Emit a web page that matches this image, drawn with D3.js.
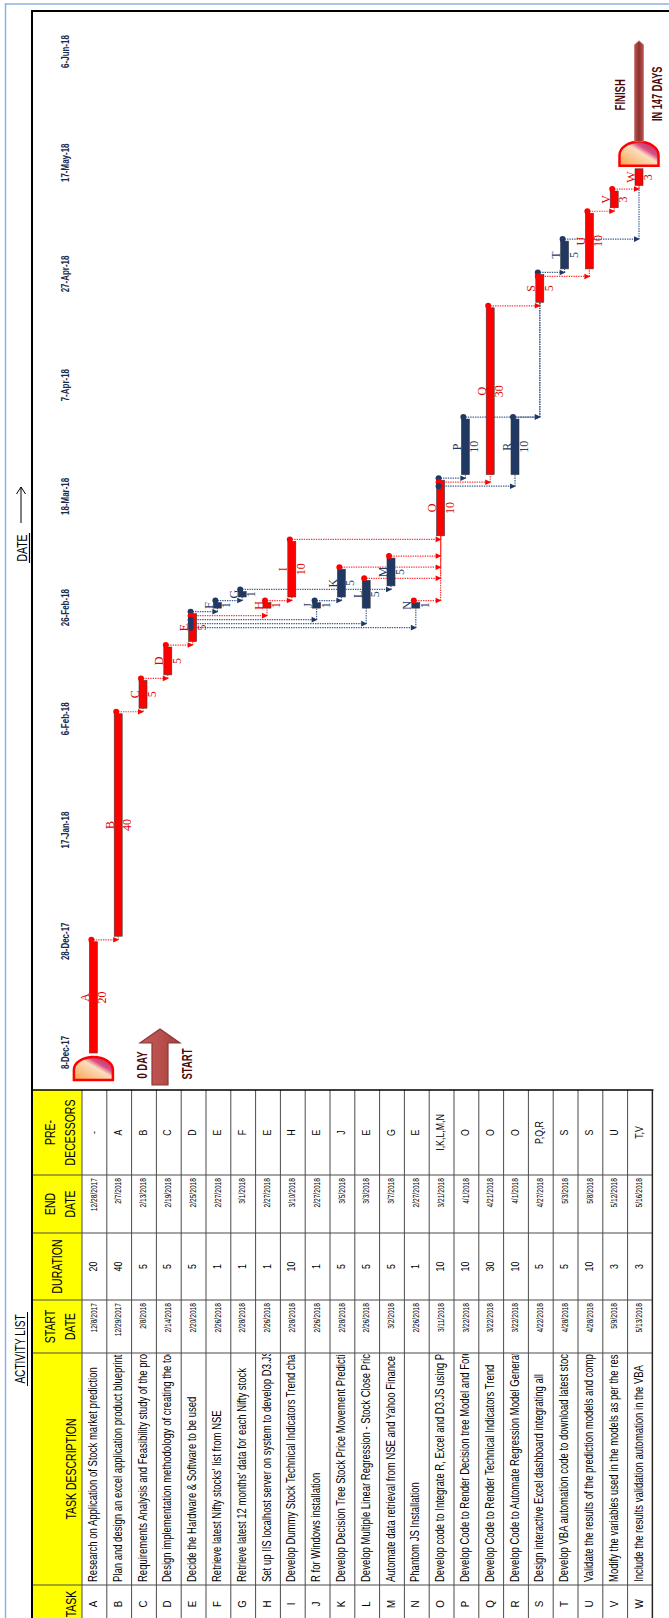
<!DOCTYPE html>
<html>
<head>
<meta charset="utf-8">
<script src="https://cdn.jsdelivr.net/npm/d3@7"></script>
<style>
html, body { margin:0; padding:0; background:#fff; }
svg { display:block; }
</style>
</head>
<body>
<div id="canvas" class="canvas"></div>
<script>
// --- activity list
var tasks = ['A','B','C','D','E','F','G','H','I','J','K','L','M','N','O','P','Q','R','S','T','U','V','W'];

var descriptions = [
    'Research on Application of Stock market prediction',
    'Plan and design an excel application product blueprint',
    'Requirements Analysis and Feasibility study of the project',
    'Design implementation methodology of creating the tool',
    'Decide the Hardware & Software to be used',
    'Retrieve latest Nifty stocks\' list from NSE',
    'Retrieve latest 12 months\' data for each Nifty stock',
    'Set up IIS localhost server on system to develop D3.JS',
    'Develop Dummy Stock Technical Indicators Trend chart',
    'R for Windows installation',
    'Develop Decision Tree Stock Price Movement Prediction',
    'Develop Multiple Linear Regression - Stock Close Price',
    'Automate data retrieval from NSE and Yahoo Finance',
    'Phantom JS Installation',
    'Develop code to Integrate R, Excel and D3.JS using PhantomJS',
    'Develop Code to Render Decision tree Model and Forecast',
    'Develop Code to Render Technical Indicators Trend',
    'Develop Code to Automate Regression Model Generation',
    'Design interactive Excel dashboard integrating all',
    'Develop VBA automation code to download latest stock',
    'Validate the results of the prediction models and compare',
    'Modify the variables used in the models as per the results',
    'Include the results validation automation in the VBA'
];

var startDates = ['12/8/2017','12/29/2017','2/8/2018','2/14/2018','2/20/2018','2/26/2018','2/28/2018','2/26/2018',
    '2/28/2018','2/26/2018','2/28/2018','2/26/2018','3/2/2018','2/26/2018','3/11/2018','3/22/2018','3/22/2018',
    '3/22/2018','4/22/2018','4/28/2018','4/28/2018','5/9/2018','5/13/2018'];

var durations = [20,40,5,5,5,1,1,1,10,1,5,5,5,1,10,10,30,10,5,5,10,3,3];

var endDates = ['12/28/2017','2/7/2018','2/13/2018','2/19/2018','2/25/2018','2/27/2018','3/1/2018','2/27/2018',
    '3/10/2018','2/27/2018','3/5/2018','3/3/2018','3/7/2018','2/27/2018','3/21/2018','4/1/2018','4/21/2018',
    '4/1/2018','4/27/2018','5/3/2018','5/8/2018','5/12/2018','5/16/2018'];

var predecessors = ['-','A','B','C','D','E','F','E','H','E','J','E','G','E','I,K,L,M,N','O','O','O','P,Q,R','S','S','U','T,V'];

var criticalPath = ['A','B','C','D','E','H','I','O','Q','S','U','V','W'];

var redLinks = ['A-B','B-C','C-D','D-E','E-H','H-I','I-O','K-O','L-O','M-O','N-O','O-Q','Q-S','S-U','U-V','V-W'];

var tickLabels = ['8-Dec-17','28-Dec-17','17-Jan-18','6-Feb-18','26-Feb-18','18-Mar-18','7-Apr-18','27-Apr-18','17-May-18','6-Jun-18'];

var projectDays = 147;

// --- page is the sheet turned on its side
var outerWidth = 669, outerHeight = 1618;
var RED = '#FF0000', NAVY = '#1F3864', MAROON = '#4E0B0B';

var parseDate = d3.timeParse('%m/%d/%Y');
var parseTick = d3.timeParse('%d-%b-%y');
var tickDates = tickLabels.map(parseTick);

var svg = d3.select('.canvas')
    .append('svg')
    .attr('width', outerWidth)
    .attr('height', outerHeight);

svg.append('rect').attr('width', outerWidth).attr('height', outerHeight).attr('fill', '#fff');

// window chrome
svg.append('line').attr('x1', 5.5).attr('x2', 5.5).attr('y1', 3).attr('y2', outerHeight)
    .attr('stroke', '#8DB3E2').attr('stroke-width', 1.5);
svg.append('line').attr('x1', 5).attr('x2', outerWidth).attr('y1', 4).attr('y2', 4)
    .attr('stroke', '#8DB3E2').attr('stroke-width', 1.5);

// everything below is laid out landscape and rotated
var plot = svg.append('g')
    .attr('transform', 'translate(0,' + outerHeight + ') rotate(-90)');

var defs = svg.append('defs');

// --- scales
var x = d3.scaleTime()
    .domain([tickDates[0], tickDates[tickDates.length - 1]])
    .range([565, 1566]);

var lane = d3.scaleBand()
    .domain(tasks)
    .range([82, 82 + tasks.length * 24.8]);

function laneC(t) { return lane(t) + lane.bandwidth() / 2 - 1; }

var rows = tasks.map(function(t, i) {
    return {
        task: t,
        desc: descriptions[i],
        startTxt: startDates[i],
        endTxt: endDates[i],
        dur: durations[i],
        pred: predecessors[i],
        start: parseDate(startDates[i]),
        end: parseDate(endDates[i]),
        crit: criticalPath.indexOf(t) >= 0
    };
});
var byTask = {};
rows.forEach(function(d) { byTask[d.task] = d; });

// condensed text helper
function ctext(g, txt, X, Y, size, sx, opts) {
    opts = opts || {};
    return g.append('text')
        .attr('transform', 'translate(' + X + ',' + Y + ') scale(' + sx + ',1)')
        .attr('text-anchor', opts.anchor || 'middle')
        .attr('font-family', opts.family || 'Liberation Sans, Arial, sans-serif')
        .attr('font-size', size)
        .attr('font-weight', opts.weight || 'normal')
        .attr('fill', opts.fill || '#000')
        .text(txt);
}

// --- frame of the chart area
plot.append('line').attr('x1', -10).attr('x2', 1608).attr('y1', 32).attr('y2', 32)
    .attr('stroke', '#000').attr('stroke-width', 2);
plot.append('line').attr('x1', 1607).attr('x2', 1607).attr('y1', 31).attr('y2', 700)
    .attr('stroke', '#000').attr('stroke-width', 2);

// --- table
var cols = [
    {key:'task', a:-10, b:33, head:['TASK']},
    {key:'desc', a:33, b:265, head:['TASK DESCRIPTION']},
    {key:'startTxt', a:265, b:318, head:['START','DATE']},
    {key:'dur', a:318, b:385, head:['DURATION']},
    {key:'endTxt', a:385, b:443, head:['END','DATE']},
    {key:'pred', a:443, b:528, head:['PRE-','DECESSORS']}
];
var tableTop = 528, headA = 33, headB = 82, tableB = lane.range()[1];

var table = plot.append('g');
table.append('rect').attr('x', -10).attr('y', headA).attr('width', tableTop + 10).attr('height', headB - headA)
    .attr('fill', '#FFFF00');

// row lines
table.selectAll('.rowline').data(tasks.concat(['end']))
    .join('line')
    .attr('x1', -10).attr('x2', tableTop)
    .attr('y1', function(d) { return d === 'end' ? tableB : lane(d); })
    .attr('y2', function(d) { return d === 'end' ? tableB : lane(d); })
    .attr('stroke', '#4a4a4a').attr('stroke-width', 1);
// column lines
table.selectAll('.colline').data(cols.slice(1))
    .join('line')
    .attr('x1', function(d) { return d.a; }).attr('x2', function(d) { return d.a; })
    .attr('y1', headA).attr('y2', tableB)
    .attr('stroke', '#4a4a4a').attr('stroke-width', 1);
table.append('line').attr('x1', tableTop).attr('x2', tableTop).attr('y1', headA - 1).attr('y2', tableB + 1)
    .attr('stroke', '#000').attr('stroke-width', 1.6);
table.append('line').attr('x1', -10).attr('x2', tableTop).attr('y1', tableB).attr('y2', tableB)
    .attr('stroke', '#222').attr('stroke-width', 1.4);

// headers
cols.forEach(function(c) {
    var mid = (c.a + c.b) / 2;
    if (c.key === 'task') mid = 14;
    if (c.head.length === 1) {
        ctext(table, c.head[0], mid, c.key === 'dur' ? 62 : 76, 14, 0.75);
    } else {
        ctext(table, c.head[0], mid, 55, 14, 0.75);
        ctext(table, c.head[1], mid, 75, 14, 0.75);
    }
});

// cells
defs.append('clipPath').attr('id', 'descClip')
    .append('rect').attr('x', 34).attr('y', 82).attr('width', 230).attr('height', 600);

var descG = table.append('g').attr('clip-path', 'url(#descClip)');
rows.forEach(function(d) {
    var by = lane(d.task) + 15;
    ctext(table, d.task, 14, by, 11.5, 0.85);
    ctext(descG, d.desc, 36, by, 12.5, 0.76, {anchor:'start'});
    ctext(table, d.startTxt, 315, by - 0.5, 9.5, 0.7, {anchor:'end'});
    ctext(table, d.dur, 351.5, by, 11, 0.8);
    ctext(table, d.endTxt, 440, by - 0.5, 9.5, 0.7, {anchor:'end'});
    ctext(table, d.pred, 485.5, by, 11, 0.8);
});

// title
ctext(plot, 'ACTIVITY LIST', 269, 25, 14, 0.72);
plot.append('line').attr('x1', 232).attr('x2', 306).attr('y1', 27.5).attr('y2', 27.5)
    .attr('stroke', '#000').attr('stroke-width', 1);

// --- date axis
var axis = plot.append('g')
    .attr('transform', 'translate(0,69)')
    .call(d3.axisTop(x)
        .tickValues(tickDates)
        .tickFormat(function(d, i) { return tickLabels[i]; })
        .tickSize(0)
        .tickPadding(0));
axis.select('.domain').remove();
axis.selectAll('text')
    .attr('font-family', 'Liberation Sans, Arial, sans-serif')
    .attr('font-size', 10.5)
    .attr('font-weight', 'bold')
    .attr('fill', '#1B2A48')
    .attr('transform', 'scale(0.76,1)');

ctext(plot, 'DATE', 1070, 27, 14, 0.75);
plot.append('line').attr('x1', 1055).attr('x2', 1085).attr('y1', 29.5).attr('y2', 29.5)
    .attr('stroke', '#000').attr('stroke-width', 1.2);
plot.append('path')
    .attr('d', 'M1095,21 L1131,21 M1124,16.5 L1131,21 L1124,25.5')
    .attr('fill', 'none').attr('stroke', '#000').attr('stroke-width', 1);

// --- links between tasks
var succ = {};
var links = [];
rows.forEach(function(d) {
    if (d.pred === '-') return;
    d.pred.split(',').forEach(function(p) {
        succ[p] = succ[p] || [];
        var l = {from: p, to: d.task, k: succ[p].length};
        succ[p].push(l);
        links.push(l);
    });
});
links.forEach(function(l) {
    l.red = redLinks.indexOf(l.from + '-' + l.to) >= 0;
    l.X = x(byTask[l.from].end) + 2 - 4 * l.k;
    l.Y0 = laneC(l.from);
    l.Y1 = laneC(l.to);
    l.Xs = x(byTask[l.to].start);
});

var linkG = plot.append('g');
linkG.selectAll('.hl').data(links).join('line')
    .attr('x1', function(l) { return l.X; }).attr('x2', function(l) { return l.X; })
    .attr('y1', function(l) { return l.Y0; }).attr('y2', function(l) { return l.Y1 - 5; })
    .attr('stroke', function(l) { return l.red ? '#FF3A3A' : '#3E5F91'; })
    .attr('stroke-width', 1.2).attr('stroke-dasharray', '1.4,1');
linkG.selectAll('.vl').data(links.filter(function(l) { return Math.abs(l.Xs - l.X) > 2; })).join('line')
    .attr('x1', function(l) { return l.X; }).attr('x2', function(l) { return l.Xs; })
    .attr('y1', function(l) { return l.Y1; }).attr('y2', function(l) { return l.Y1; })
    .attr('stroke', function(l) { return l.red ? '#FF3A3A' : '#3E5F91'; })
    .attr('stroke-width', 1.2).attr('stroke-dasharray', '1.4,1');

// --- bars
plot.append('g').selectAll('rect').data(rows).join('rect')
    .attr('x', function(d) { return x(d.start); })
    .attr('width', function(d) { return x(d.end) - x(d.start); })
    .attr('y', function(d) { return laneC(d.task) - 4; })
    .attr('height', 8)
    .attr('fill', function(d) { return d.crit ? RED : NAVY; })
    .attr('stroke', '#3a3a3a').attr('stroke-width', 0.6);

// arrow heads and end dots
linkG.selectAll('.ah').data(links).join('path')
    .attr('d', function(l) {
        return 'M' + l.X + ',' + (l.Y1 + 1) + ' L' + (l.X - 2.8) + ',' + (l.Y1 - 5) + ' L' + (l.X + 2.8) + ',' + (l.Y1 - 5) + 'Z';
    })
    .attr('fill', function(l) { return l.red ? RED : NAVY; });
plot.append('g').selectAll('circle').data(links).join('circle')
    .attr('cx', function(l) { return l.X; })
    .attr('cy', function(l) { return l.Y0 - 2; })
    .attr('r', 3)
    .attr('fill', function(l) { return l.red ? RED : NAVY; });

// bar labels: task letter above, duration below
var lab = plot.append('g');
rows.forEach(function(d) {
    var mid = (x(d.start) + x(d.end)) / 2, c = laneC(d.task);
    var col = d.crit ? '#E00000' : NAVY;
    lab.append('text').attr('x', mid).attr('y', c - 4.5).attr('text-anchor', 'middle')
        .attr('font-family', 'Liberation Serif, serif').attr('font-size', 12).attr('fill', col).text(d.task);
    lab.append('text').attr('x', mid).attr('y', c + 13).attr('text-anchor', 'middle')
        .attr('font-family', 'Liberation Serif, serif').attr('font-size', 12).attr('fill', col).text(d.dur);
});

// --- start / finish caps
var capGrad = defs.append('linearGradient').attr('id', 'capGrad')
    .attr('x1', 0).attr('y1', 0).attr('x2', 1).attr('y2', 1);
capGrad.append('stop').attr('offset', 0).attr('stop-color', '#F7A24A');
capGrad.append('stop').attr('offset', 0.55).attr('stop-color', '#FCDDBF');
capGrad.append('stop').attr('offset', 0.68).attr('stop-color', '#DA4F86');
capGrad.append('stop').attr('offset', 1).attr('stop-color', '#B3215F');

function cap(Xf, Xd, Yc) {
    var s = (Xd - Xf) * 0.45, r = 19.5;
    plot.append('path')
        .attr('d', 'M' + Xf + ',' + (Yc - r) + ' L' + (Xf + s) + ',' + (Yc - r) +
            ' A' + (Xd - Xf - s) + ',' + r + ' 0 0 1 ' + (Xf + s) + ',' + (Yc + r) +
            ' L' + Xf + ',' + (Yc + r) + 'Z')
        .attr('fill', 'url(#capGrad)')
        .attr('stroke', RED).attr('stroke-width', 2.5);
}
var x0 = x(byTask['A'].start), x1 = x(byTask['W'].end);
cap(x0 - 27, x0 - 4, laneC('A'));
cap(x1 + 3, x1 + 27, laneC('W'));

// finish shaft
var shaftGrad = defs.append('linearGradient').attr('id', 'shaftGrad')
    .attr('x1', 0).attr('y1', 0).attr('x2', 0).attr('y2', 1);
shaftGrad.append('stop').attr('offset', 0).attr('stop-color', '#B85652');
shaftGrad.append('stop').attr('offset', 0.5).attr('stop-color', '#8E302E');
shaftGrad.append('stop').attr('offset', 1).attr('stop-color', '#B85652');
var wc = laneC('W');
plot.append('path')
    .attr('d', 'M' + (x1 + 27) + ',' + (wc - 4.5) + ' L' + (x1 + 124) + ',' + (wc - 4.5) +
        ' L' + (x1 + 128) + ',' + wc + ' L' + (x1 + 124) + ',' + (wc + 4.5) +
        ' L' + (x1 + 27) + ',' + (wc + 4.5) + 'Z')
    .attr('fill', 'url(#shaftGrad)').attr('stroke', '#C9706C').attr('stroke-width', 0.8);

ctext(plot, 'FINISH', x1 + 74, wc - 14, 14, 0.68, {weight:'bold', fill:MAROON});
ctext(plot, 'IN ' + projectDays + ' DAYS', x1 + 75, 662, 14, 0.66, {weight:'bold', fill:MAROON});

// start arrow
var startGrad = defs.append('linearGradient').attr('id', 'startGrad')
    .attr('x1', 0).attr('y1', 0).attr('x2', 0).attr('y2', 1);
startGrad.append('stop').attr('offset', 0).attr('stop-color', '#C55A57');
startGrad.append('stop').attr('offset', 0.5).attr('stop-color', '#B9504C');
startGrad.append('stop').attr('offset', 1).attr('stop-color', '#A0413E');
var sa = x0 - 32;
plot.append('path')
    .attr('d', 'M' + sa + ',152 L' + (sa + 42) + ',152 L' + (sa + 42) + ',140 L' + (sa + 56) + ',160 L' +
        (sa + 42) + ',180 L' + (sa + 42) + ',168 L' + sa + ',168 Z')
    .attr('fill', 'url(#startGrad)').attr('stroke', '#8C3836').attr('stroke-width', 1.2);

ctext(plot, '0 DAY', x0 - 12, 147, 14, 0.68, {weight:'bold', fill:MAROON});
ctext(plot, 'START', x0 - 11, 192, 14, 0.68, {weight:'bold', fill:MAROON});
</script>
</body>
</html>
